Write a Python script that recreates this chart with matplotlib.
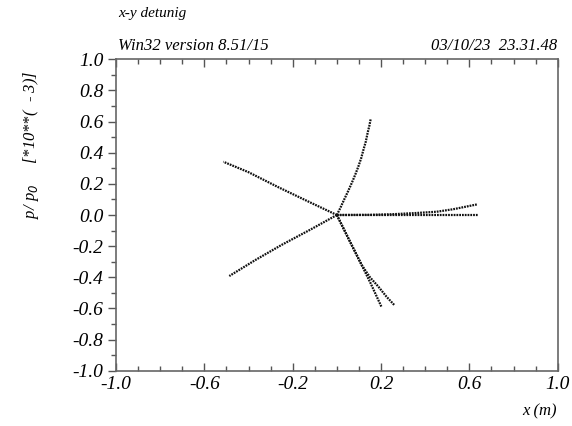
import matplotlib
matplotlib.use("Agg")
import matplotlib.pyplot as plt
from matplotlib.ticker import MultipleLocator, FixedLocator

plt.rcParams['font.family'] = 'Liberation Serif'
plt.rcParams['font.style'] = 'italic'
plt.rcParams['axes.unicode_minus'] = False

# track points (x in m, p/p0 in 1e-3)
up_x = [0.0, 0.016, 0.032, 0.050, 0.067, 0.083, 0.097, 0.110, 0.120, 0.131, 0.139, 0.147, 0.153]
up_y = [0.0, 0.046, 0.096, 0.150, 0.204, 0.258, 0.310, 0.364, 0.417, 0.471, 0.525, 0.572, 0.615]

ul_x = [0.0, -0.13, -0.27, -0.40, -0.514]
ul_y = [0.0, 0.087, 0.182, 0.275, 0.342]

ll_x = [0.0, -0.12, -0.25, -0.37, -0.487]
ll_y = [0.0, -0.094, -0.192, -0.290, -0.392]

dnA_x = [0.0, 0.056, 0.112, 0.153, 0.203]
dnA_y = [0.0, -0.161, -0.320, -0.439, -0.593]

dnB_x = [0.0, 0.056, 0.112, 0.150, 0.188, 0.225, 0.260]
dnB_y = [0.0, -0.161, -0.320, -0.400, -0.460, -0.525, -0.578]

rt_x = [0.0, 0.15, 0.30, 0.45, 0.638]
rt_y = [0.0, 0.0, 0.0, 0.0, 0.0]

ru_x = [0.0, 0.15, 0.25, 0.35, 0.452, 0.527, 0.638]
ru_y = [0.0, 0.001, 0.005, 0.012, 0.021, 0.037, 0.069]

fig = plt.figure(figsize=(5.72, 4.26), dpi=100)
ax = fig.add_axes([116/572, 1-370.7/426, (557.7-116)/572, (370.7-59.3)/426])

dots = dict(color='#111111', linewidth=1.6, linestyle=(0, (0.8, 0.45)))
for xs, ys in [(up_x, up_y), (ul_x, ul_y), (ll_x, ll_y), (dnA_x, dnA_y),
               (dnB_x, dnB_y), (rt_x, rt_y), (ru_x, ru_y)]:
    ax.plot(xs, ys, **dots)

ax.set_xlim(-1.0, 1.0)
ax.set_ylim(-1.0, 1.0)

ax.xaxis.set_major_locator(FixedLocator([-1.0, -0.6, -0.2, 0.2, 0.6, 1.0]))
ax.xaxis.set_minor_locator(MultipleLocator(0.1))
ax.yaxis.set_major_locator(MultipleLocator(0.2))
ax.yaxis.set_minor_locator(MultipleLocator(0.1))
ax.xaxis.set_major_formatter(plt.FormatStrFormatter('%.1f'))
ax.yaxis.set_major_formatter(plt.FormatStrFormatter('%.1f'))

ax.tick_params(axis='x', which='both', direction='in', top=True, bottom=True,
               labelsize=14, pad=4, color='#555555')
ax.tick_params(axis='y', which='both', direction='out', left=True, right=False,
               labelsize=14, pad=3, color='#555555')
ax.tick_params(which='major', length=6, width=1)
ax.tick_params(which='minor', length=3.5, width=1)

for s in ax.spines.values():
    s.set_color('#666666')
    s.set_linewidth(1.2)

fig.text(118/572, 1-14/426, 'x-y detunig', fontsize=11, ha='left', va='center')
fig.text(118/572, 1-46/426, 'Win32 version 8.51/15', fontsize=12, ha='left', va='center')
fig.text(557/572, 1-46/426, '03/10/23  23.31.48', fontsize=12, ha='right', va='center')
fig.text(557/572, 1-411/426, 'x (m)', fontsize=12, ha='right', va='center')
fig.text(31/572, 1-145/426, 'p/ p$_0$     [*10**(  - 3)]', fontsize=12,
         rotation=90, ha='center', va='center')

plt.savefig('out.png', dpi=100)
